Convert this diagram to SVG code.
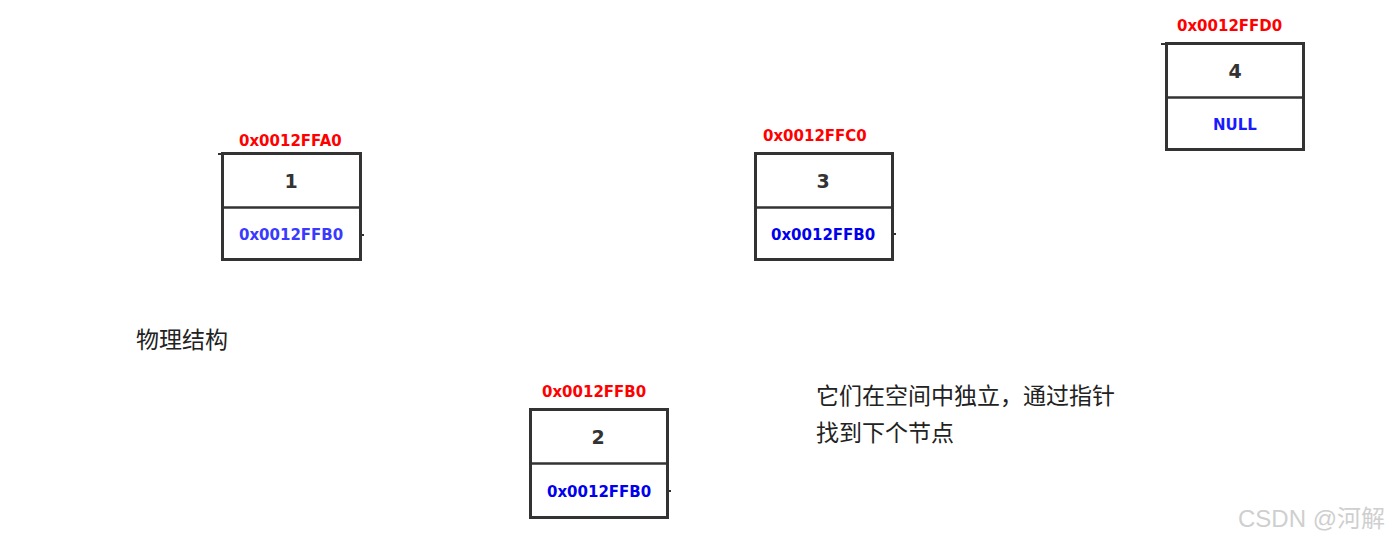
<svg xmlns="http://www.w3.org/2000/svg" width="1394" height="540" viewBox="0 0 1394 540">
<style>
.box{fill:#fff;stroke:#333;stroke-width:3}
.div{stroke:#333;stroke-width:2.5}
.stub{stroke:#333;stroke-width:2}
.addr{font-family:"DejaVu Sans",sans-serif;font-weight:bold;font-size:15px;fill:#ff0000}
.num{font-family:"DejaVu Sans",sans-serif;font-weight:bold;font-size:19px;fill:#333;text-anchor:middle}
.ptr{font-family:"DejaVu Sans",sans-serif;font-weight:bold;font-size:15px;fill:#0000ee}
.cn{font-family:"Noto Sans CJK SC",sans-serif;font-size:23px;fill:#222}
.wm{font-family:"Liberation Sans","Noto Sans CJK SC",sans-serif;font-size:24px;fill:#cfcfcf}
</style>
<g id="node1">
<text class="addr" x="239" y="146">0x0012FFA0</text>
<rect class="box" x="222.5" y="153.5" width="138" height="106"/>
<line class="div" x1="222.5" y1="207.5" x2="360.5" y2="207.5"/>
<line class="stub" x1="218" y1="154" x2="222" y2="154"/>
<line class="stub" x1="361" y1="235" x2="364" y2="235"/>
<text class="num" x="291" y="188">1</text>
<text class="ptr" x="239" y="240" style="fill:#3a3aff">0x0012FFB0</text>
</g>
<g id="node3">
<text class="addr" x="763" y="141">0x0012FFC0</text>
<rect class="box" x="755.5" y="153.5" width="137" height="106"/>
<line class="div" x1="755.5" y1="207.5" x2="892.5" y2="207.5"/>
<line class="stub" x1="893" y1="234" x2="896" y2="234"/>
<text class="num" x="823" y="188">3</text>
<text class="ptr" x="771" y="240">0x0012FFB0</text>
</g>
<g id="node4">
<text class="addr" x="1177" y="31">0x0012FFD0</text>
<rect class="box" x="1166.5" y="43.5" width="137" height="106"/>
<line class="div" x1="1166.5" y1="97.5" x2="1303.5" y2="97.5"/>
<line class="stub" x1="1161" y1="44" x2="1166" y2="44"/>
<text class="num" x="1235" y="78">4</text>
<text class="ptr" x="1235" y="130" text-anchor="middle" style="fill:#1a1aff">NULL</text>
</g>
<g id="node2">
<text class="addr" x="542" y="397">0x0012FFB0</text>
<rect class="box" x="530.5" y="409.5" width="137" height="108"/>
<line class="div" x1="530.5" y1="463.5" x2="667.5" y2="463.5"/>
<line class="stub" x1="668" y1="491" x2="671" y2="491"/>
<text class="num" x="598" y="444">2</text>
<text class="ptr" x="547" y="497">0x0012FFB0</text>
</g>
<g id="connectors"></g>
<g id="labels">
<text class="cn" x="136" y="348">物理结构</text>
<text class="cn" x="816" y="404">它们在空间中独立，通过指针</text>
<text class="cn" x="816" y="441">找到下个节点</text>
<text class="wm" x="1238" y="527">CSDN @河解</text>
</g>
</svg>
